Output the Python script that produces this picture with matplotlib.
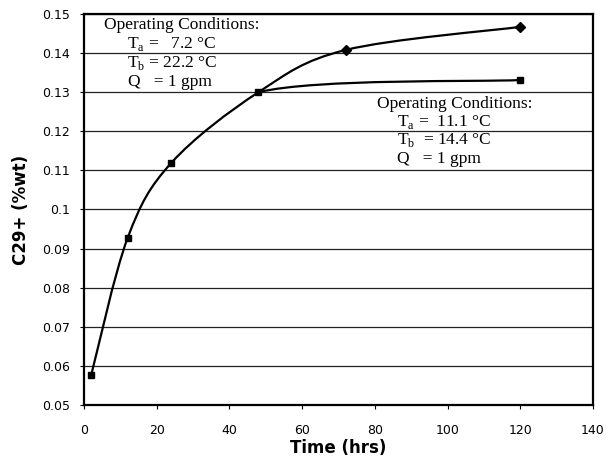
import matplotlib
matplotlib.use('Agg')
import matplotlib.pyplot as plt
from matplotlib.path import Path
from matplotlib.patches import PathPatch
import numpy as np

plt.rcParams['mathtext.fontset'] = 'custom'
plt.rcParams['mathtext.rm'] = 'Liberation Serif'

# series 1: Ta = 7.2 C, Tb = 22.2 C
time_1 = [2, 12, 24, 48, 72, 120]
c29_1 = [0.0577, 0.0927, 0.1119, 0.1300, 0.1408, 0.1467]

# series 2: Ta = 11.1 C, Tb = 14.4 C
time_2 = [2, 12, 24, 48, 120]
c29_2 = [0.0577, 0.0927, 0.1119, 0.1300, 0.1331]

x_ticks = [0, 20, 40, 60, 80, 100, 120, 140]
y_ticks = [0.05, 0.06, 0.07, 0.08, 0.09, 0.1, 0.11, 0.12, 0.13, 0.14, 0.15]
y_tick_labels = ['0.05', '0.06', '0.07', '0.08', '0.09', '0.1', '0.11',
                 '0.12', '0.13', '0.14', '0.15']


def smooth_path(xs, ys, start=0):
    # spreadsheet-style smoothed line (cubic bezier, catmull-rom tangents)
    p = np.column_stack([xs, ys]).astype(float)
    n = len(p)
    verts = [p[start]]
    codes = [Path.MOVETO]
    for i in range(start, n - 1):
        p0 = p[i - 1] if i > 0 else p[i]
        p3 = p[i + 2] if i + 2 < n else p[i + 1]
        c1 = p[i] + (p[i + 1] - p0) / 6.0
        c2 = p[i + 1] - (p3 - p[i]) / 6.0
        verts += [c1, c2, p[i + 1]]
        codes += [Path.CURVE4] * 3
    return Path(verts, codes)


fig = plt.figure(figsize=(6.06, 4.66), dpi=100)
ax = fig.add_axes([0.1386, 0.131, 0.8399, 0.839])

# series 1 line over all points, series 2 only where it departs (t >= 48)
ax.add_patch(PathPatch(smooth_path(time_1, c29_1), facecolor='none',
                       edgecolor='black', lw=1.6, zorder=3))
ax.add_patch(PathPatch(smooth_path(time_2, c29_2, start=3), facecolor='none',
                       edgecolor='black', lw=1.6, zorder=3))
# shared points show the square marker; diamonds only where series 1 runs alone
ax.plot(time_1, c29_1, linestyle='none', marker='D', ms=5, color='black',
        markevery=slice(4, None), zorder=4)
ax.plot(time_2, c29_2, linestyle='none', marker='s', ms=4.5, color='black', zorder=5)

ax.set_xlim(0, 140)
ax.set_ylim(0.05, 0.15)
ax.set_xticks(x_ticks)
ax.set_yticks(y_ticks)
ax.set_yticklabels(y_tick_labels)
ax.yaxis.grid(True, color='#222222', lw=0.9)
ax.set_axisbelow(True)
for s in ax.spines.values():
    s.set_linewidth(1.6)
ax.tick_params(axis='x', direction='out', length=3, pad=11, labelsize=9)
ax.tick_params(axis='y', direction='out', length=3, pad=7, labelsize=9)

ax.set_xlabel('Time (hrs)', fontsize=12, fontweight='bold', labelpad=1)
ax.set_ylabel('C29+ (%wt)', fontsize=12, fontweight='bold', labelpad=9)

W, H = 606.0, 466.0
txt = dict(family='Liberation Serif', fontsize=12.5, va='center',
           transform=fig.transFigure)
fig.text(182 / W, 1 - 25 / H, 'Operating Conditions:', ha='center', **txt)
fig.text(127 / W, 1 - 44 / H, r'T$_\mathrm{a}$ =   7.2 °C', ha='left', **txt)
fig.text(127 / W, 1 - 63 / H, r'T$_\mathrm{b}$ = 22.2 °C', ha='left', **txt)
fig.text(128 / W, 1 - 82 / H, 'Q   = 1 gpm', ha='left', **txt)

fig.text(455 / W, 1 - 104 / H, 'Operating Conditions:', ha='center', **txt)
fig.text(397 / W, 1 - 122 / H, r'T$_\mathrm{a}$ =  11.1 °C', ha='left', **txt)
fig.text(397 / W, 1 - 140 / H, r'T$_\mathrm{b}$  = 14.4 °C', ha='left', **txt)
fig.text(397 / W, 1 - 159 / H, 'Q   = 1 gpm', ha='left', **txt)

fig.savefig('out.png', dpi=100)
